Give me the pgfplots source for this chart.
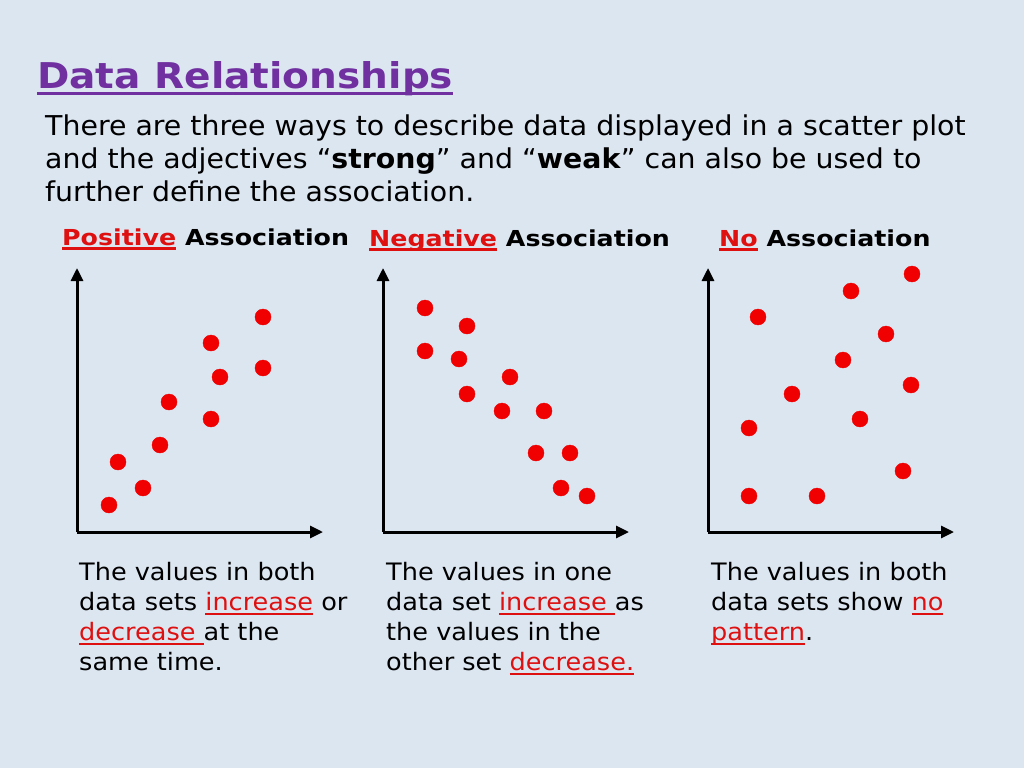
\documentclass[border=0pt]{standalone}
\usepackage{pgfplots}
\pgfplotsset{compat=1.18}
\usepackage{fontspec}
\setmainfont{DejaVu Sans}
\newfontfamily\titfont[FakeStretch=1.10]{DejaVu Sans}
\newfontfamily\bodyfont[FakeStretch=1.04]{DejaVu Sans}
\newfontfamily\headfont[FakeStretch=1.15]{DejaVu Sans}
\newfontfamily\capfont[FakeStretch=1.065]{DejaVu Sans}
\usetikzlibrary{arrows.meta}

\definecolor{slidebg}{RGB}{220,230,241}
\definecolor{titlepurple}{RGB}{112,48,160}
\definecolor{hlred}{RGB}{222,16,16}
\definecolor{dotred}{RGB}{240,0,0}

% simple underline: box plus a rule below the baseline
\newlength{\uldep}\setlength{\uldep}{4.5pt}
\newlength{\ulthick}\setlength{\ulthick}{2pt}
\newcommand{\uln}[1]{\leavevmode\setbox0=\hbox{#1}%
  \rlap{\raisebox{-\uldep}{\rule{\wd0}{\ulthick}}}\box0}
\newcommand{\ru}[1]{{\color{hlred}\uln{#1}}}

\pgfplotsset{
  assoc/.style={
    scale only axis,
    width=246pt, height=264pt,
    xmin=0, xmax=246, ymin=0, ymax=264,
    axis lines=left, ticks=none,
    axis line style={line width=3pt, -{Triangle[length=13pt,width=12pt]}},
    clip=false, anchor=south west,
  },
  dots/.style={only marks, color=dotred, mark=*, mark size=8pt,
    mark options={draw=dotred, fill=dotred}},
}

\begin{document}
\begin{tikzpicture}
\fill[slidebg] (0pt,0pt) rectangle (1024pt,-768pt);

\begin{scope}[every node/.style={anchor=base west, inner sep=0}]
% title and intro
\node[text=titlepurple] at (37pt,-88pt)
  {\titfont\fontsize{35.5}{40}\selectfont\bfseries
   \setlength{\uldep}{7pt}\setlength{\ulthick}{3pt}\uln{Data Relationships}};
\node at (45pt,-135pt) {\bodyfont\fontsize{27.3}{33}\selectfont There are three ways to describe data displayed in a scatter plot};
\node at (45pt,-168pt) {\bodyfont\fontsize{27.3}{33}\selectfont and the adjectives “\textbf{strong}” and “\textbf{weak}” can also be used to};
\node at (45pt,-201pt) {\bodyfont\fontsize{27.3}{33}\selectfont further define the association.};

% headings
\node at (62pt,-245pt) {\headfont\fontsize{22}{26}\selectfont\bfseries
  \setlength{\ulthick}{2.5pt}\ru{Positive} Association};
\node at (369pt,-246pt) {\headfont\fontsize{22}{26}\selectfont\bfseries
  \setlength{\ulthick}{2.5pt}\ru{Negative} Association};
\node at (719pt,-246pt) {\headfont\fontsize{22}{26}\selectfont\bfseries
  \setlength{\ulthick}{2.5pt}\ru{No} Association};

% captions
\begin{scope}[every node/.append style={font=\capfont\fontsize{24}{28}\selectfont}]
\node at (79pt,-580pt) {The values in both};
\node at (79pt,-610pt) {data sets \ru{increase} or};
\node at (79pt,-640pt) {\ru{decrease\ }at the};
\node at (79pt,-670pt) {same time.};

\node at (386pt,-580pt) {The values in one};
\node at (386pt,-610pt) {data set \ru{increase\ }as};
\node at (386pt,-640pt) {the values in the};
\node at (386pt,-670pt) {other set \ru{decrease.}};

\node at (711pt,-580pt) {The values in both};
\node at (711pt,-610pt) {data sets show \ru{no}};
\node at (711pt,-640pt) {\ru{pattern}.};
\end{scope}
\end{scope}

% positive association
\begin{axis}[assoc, at={(77pt,-532pt)}]
\addplot[dots] coordinates {
  (32,27) (41,70) (66,44) (83,87) (92,130)
  (134,189) (143,155) (134,113) (186,215) (186,164)};
\end{axis}

% negative association
\begin{axis}[assoc, at={(383pt,-532pt)}]
\addplot[dots] coordinates {
  (42,224) (84,206) (42,181) (76,173) (127,155) (84,138)
  (119,121) (161,121) (153,79) (187,79) (178,44) (204,36)};
\end{axis}

% no association
\begin{axis}[assoc, at={(708pt,-532pt)}]
\addplot[dots] coordinates {
  (204,258) (143,241) (50,215) (178,198) (135,172) (203,147)
  (84,138) (152,113) (41,104) (195,61) (41,36) (109,36)};
\end{axis}
\end{tikzpicture}
\end{document}
